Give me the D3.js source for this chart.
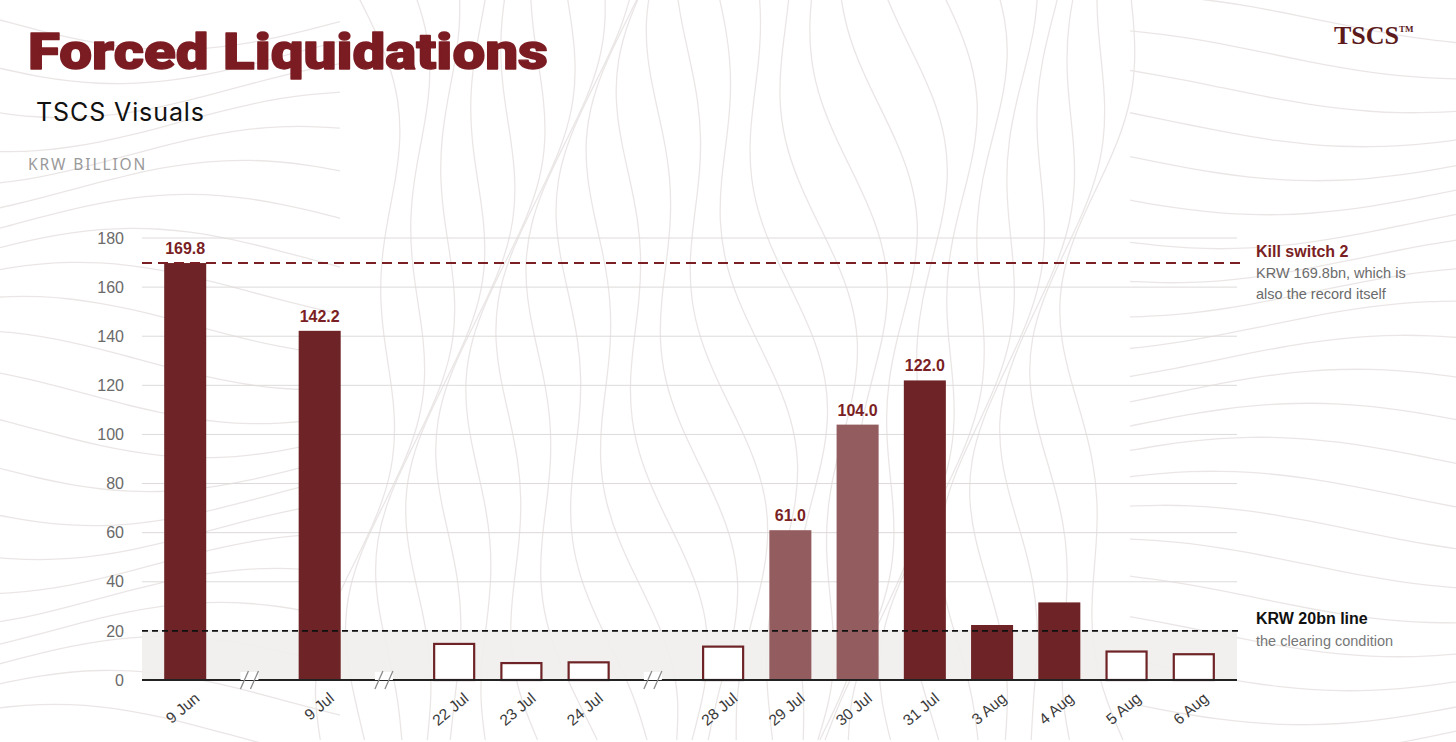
<!DOCTYPE html>
<html>
<head>
<meta charset="utf-8">
<script src="https://cdn.jsdelivr.net/npm/d3@7"></script>
<style>
  html, body { margin: 0; padding: 0; background: #fff; }
  svg { display: block; }
</style>
</head>
<body>
<div id="chart"></div>
<script>
// chart data
const dates = ["9 Jun", "9 Jul", "22 Jul", "23 Jul", "24 Jul", "28 Jul", "29 Jul", "30 Jul", "31 Jul", "3 Aug", "4 Aug", "5 Aug", "6 Aug"];
const values = [169.8, 142.2, 15.1, 7.3, 7.6, 14.0, 61.0, 104.0, 122.0, 22.4, 31.6, 12.0, 10.9];
const kinds = ["solid", "solid", "open", "open", "open", "open", "faded", "faded", "solid", "solid", "solid", "open", "open"];
const labelled = ["9 Jun", "9 Jul", "29 Jul", "30 Jul", "31 Jul"];
const breaksAfter = ["9 Jun", "9 Jul", "24 Jul"];
const yTicks = [0, 20, 40, 60, 80, 100, 120, 140, 160, 180];
const killSwitch = 169.8;
const clearLine = 20;

const W = 1456, H = 742;
const plot = { left: 142, right: 1237, top: 238, bottom: 680 };
const dark = "#6e2426", faded = "#935c5e", red = "#7a1f24";

const svg = d3.select("#chart").append("svg")
    .attr("width", W)
    .attr("height", H)
    .style("font-family", "'Liberation Sans', Arial, sans-serif");

// faint contour background (decoration only)
const bg = svg.append("g").attr("fill", "none").attr("stroke", "#ebe6e6").attr("stroke-width", 1.3);
const wave = d3.line().curve(d3.curveBasis);
for (let i = 0; i < 26; i++) {
    const x0 = 360 + i * 30;
    const pts = [];
    for (let yy = -20; yy <= H + 20; yy += 40) {
        pts.push([x0 + 38 * Math.sin(yy / 170 + i * 0.35) + 18 * Math.sin(yy / 60 + i), yy]);
    }
    bg.append("path").attr("d", wave(pts));
}
for (let i = 0; i < 22; i++) {
    const y0 = 20 + i * 34;
    const a = [], b = [];
    for (let xx = -20; xx <= 360; xx += 30) {
        a.push([xx, y0 + 30 * Math.sin(xx / 110 + i * 0.5)]);
    }
    for (let xx = 1130; xx <= W + 20; xx += 30) {
        b.push([xx, y0 + 25 * Math.cos(xx / 120 + i * 0.4)]);
    }
    bg.append("path").attr("d", wave(a));
    bg.append("path").attr("d", wave(b));
}

// slots: dates plus axis breaks
const slots = [];
dates.forEach(d => {
    slots.push(d);
    if (breaksAfter.includes(d)) slots.push("break " + d);
});

const x = d3.scaleBand()
    .domain(slots)
    .range([plot.left, plot.right])
    .paddingInner(0.375)
    .paddingOuter(0.33);

const y = d3.scaleLinear()
    .domain([0, 180])
    .range([plot.bottom, plot.top]);

// grid
svg.append("g")
    .selectAll("line")
    .data(yTicks.filter(t => t > 0))
    .join("line")
    .attr("x1", plot.left).attr("x2", plot.right)
    .attr("y1", d => y(d)).attr("y2", d => y(d))
    .attr("stroke", "#dedada")
    .attr("stroke-width", 1);

// shaded zone under the 20bn line
svg.append("rect")
    .attr("x", plot.left)
    .attr("width", plot.right - plot.left)
    .attr("y", y(clearLine))
    .attr("height", y(0) - y(clearLine))
    .attr("fill", "#f1eeed")
    .attr("opacity", 0.9);

// y axis labels
const yAxis = svg.append("g")
    .attr("transform", `translate(${plot.left - 18},0)`)
    .call(d3.axisLeft(y).tickValues(yTicks).tickSize(0).tickPadding(0));
yAxis.select(".domain").remove();
yAxis.selectAll("text")
    .attr("font-family", "'Liberation Sans', Arial, sans-serif")
    .attr("font-size", 16)
    .attr("fill", "#6a6a6a");

// bars
const rows = dates.map((d, i) => ({ date: d, value: values[i], kind: kinds[i] }));
svg.append("g")
    .selectAll("rect")
    .data(rows)
    .join("rect")
    .attr("x", d => d.kind === "open" ? x(d.date) + 1 : x(d.date))
    .attr("width", d => d.kind === "open" ? x.bandwidth() - 2 : x.bandwidth())
    .attr("y", d => d.kind === "open" ? y(d.value) + 1 : y(d.value))
    .attr("height", d => d.kind === "open" ? y(0) - y(d.value) - 1 : y(0) - y(d.value))
    .attr("fill", d => d.kind === "open" ? "#fff" : d.kind === "faded" ? faded : dark)
    .attr("stroke", d => d.kind === "open" ? dark : "none")
    .attr("stroke-width", 2.2);

// value labels
svg.append("g")
    .selectAll("text")
    .data(rows.filter(d => labelled.includes(d.date)))
    .join("text")
    .attr("x", d => x(d.date) + x.bandwidth() / 2)
    .attr("y", d => y(d.value) - 9)
    .attr("text-anchor", "middle")
    .attr("font-size", 16)
    .attr("font-weight", "bold")
    .attr("fill", red)
    .text(d => d.value.toFixed(1));

// reference lines
svg.append("line")
    .attr("x1", plot.left).attr("x2", plot.right + 4)
    .attr("y1", y(killSwitch)).attr("y2", y(killSwitch))
    .attr("stroke", red)
    .attr("stroke-width", 2)
    .attr("stroke-dasharray", "10,6");

svg.append("line")
    .attr("x1", plot.left).attr("x2", plot.right + 4)
    .attr("y1", y(clearLine)).attr("y2", y(clearLine))
    .attr("stroke", "#111")
    .attr("stroke-width", 1.6)
    .attr("stroke-dasharray", "6,4");

// x axis baseline
svg.append("line")
    .attr("x1", plot.left).attr("x2", plot.right)
    .attr("y1", y(0)).attr("y2", y(0))
    .attr("stroke", "#222")
    .attr("stroke-width", 1.8);

// break markers
const brk = svg.append("g")
    .selectAll("g")
    .data(slots.filter(s => s.startsWith("break")))
    .join("g")
    .attr("transform", d => `translate(${x(d) + x.bandwidth() / 2 - 3},${y(0)})`);
brk.append("rect")
    .attr("x", -9).attr("y", -8).attr("width", 18).attr("height", 8)
    .attr("fill", "#fff");
brk.selectAll("line")
    .data([-5, 5])
    .join("line")
    .attr("x1", d => d - 4).attr("y1", 9)
    .attr("x2", d => d + 4).attr("y2", -9)
    .attr("stroke", "#8a8a8a")
    .attr("stroke-width", 1.3);

// x labels
svg.append("g")
    .selectAll("text")
    .data(dates)
    .join("text")
    .attr("transform", d => `translate(${x(d) + x.bandwidth() / 2 + 8},${y(0) + 11}) rotate(-40)`)
    .attr("text-anchor", "end")
    .attr("dy", "0.75em")
    .attr("font-size", 15.5)
    .attr("fill", "#3a3a3a")
    .text(d => d);

// right-hand annotations
const note = svg.append("g").attr("transform", "translate(1256,0)");
note.append("text").attr("y", y(killSwitch) - 6).attr("font-size", 16).attr("font-weight", "bold").attr("fill", red).text("Kill switch 2");
note.append("text").attr("y", y(killSwitch) + 15).attr("font-size", 14.5).attr("fill", "#6b6b6b").text("KRW 169.8bn, which is");
note.append("text").attr("y", y(killSwitch) + 36).attr("font-size", 14.5).attr("fill", "#6b6b6b").text("also the record itself");
note.append("text").attr("y", y(clearLine) - 7).attr("font-size", 16).attr("font-weight", "bold").attr("fill", "#111").text("KRW 20bn line");
note.append("text").attr("y", y(clearLine) + 15).attr("font-size", 14.5).attr("fill", "#777").text("the clearing condition");

// titles
svg.append("text")
    .attr("x", 28).attr("y", 69)
    .attr("font-family", "Roboto, 'Liberation Sans', sans-serif")
    .attr("font-weight", 900)
    .attr("font-size", 50)
    .attr("fill", "#7b1c22")
    .attr("stroke", "#7b1c22")
    .attr("stroke-width", 1.4)
    .attr("stroke-linejoin", "round")
    .attr("textLength", 520)
    .attr("lengthAdjust", "spacingAndGlyphs")
    .text("Forced Liquidations");

svg.append("text")
    .attr("x", 36).attr("y", 121)
    .attr("font-family", "Inter, 'Noto Sans', sans-serif")
    .attr("font-size", 25)
    .attr("letter-spacing", 0.9)
    .attr("fill", "#111")
    .text("TSCS Visuals");

svg.append("text")
    .attr("x", 28).attr("y", 170)
    .attr("font-family", "'Noto Sans', 'Liberation Sans', sans-serif")
    .attr("font-size", 15.5)
    .attr("letter-spacing", 1.9)
    .attr("fill", "#9a9a9a")
    .text("KRW BILLION");

const logo = svg.append("text")
    .attr("x", 1334).attr("y", 44)
    .attr("font-family", "'Liberation Serif', 'DejaVu Serif', serif")
    .attr("font-weight", "bold")
    .attr("font-size", 26)
    .attr("fill", "#5c1a1c");
logo.append("tspan").text("TSCS");
logo.append("tspan").attr("font-size", 9).attr("dy", -12).text("TM");
</script>
</body>
</html>
